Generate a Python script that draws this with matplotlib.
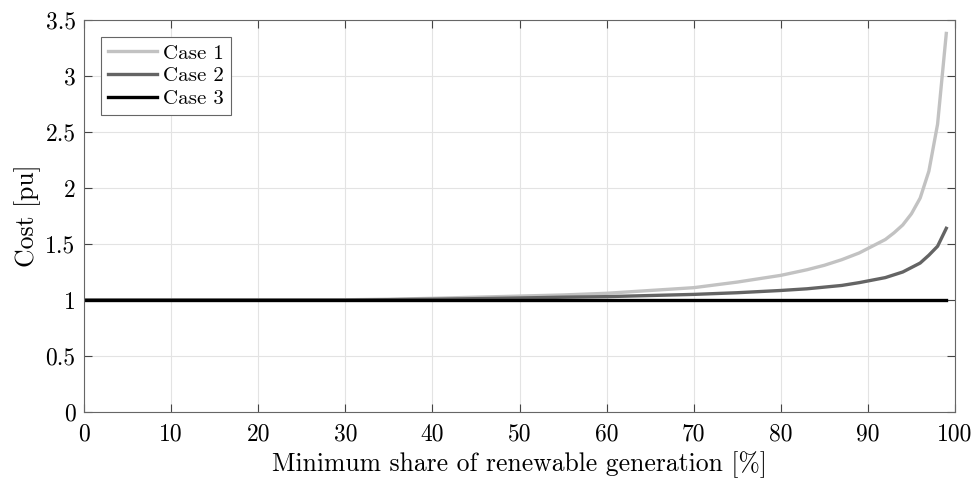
import matplotlib
matplotlib.use('Agg')
import matplotlib.pyplot as plt

# data
share = [0, 10, 20, 30, 35, 40, 45, 50, 55, 60, 65, 70, 75, 80, 83, 85, 87, 89,
         90, 91, 92, 93, 94, 95, 96, 97, 98, 99]
case1 = [1, 1, 1, 1.002, 1.007, 1.015, 1.025, 1.035, 1.045, 1.06, 1.085, 1.11,
         1.16, 1.22, 1.27, 1.31, 1.36, 1.42, 1.46, 1.50, 1.54, 1.60, 1.67, 1.77,
         1.91, 2.15, 2.57, 3.38]
case2 = [1, 1, 1, 1, 1.003, 1.007, 1.012, 1.018, 1.025, 1.03, 1.04, 1.05, 1.065,
         1.085, 1.10, 1.115, 1.13, 1.155, 1.17, 1.185, 1.20, 1.225, 1.25, 1.29,
         1.33, 1.40, 1.48, 1.64]
case3_x = [0, 99]
case3 = [1, 1]

xticks = list(range(0, 101, 10))
yticks = [0, 0.5, 1, 1.5, 2, 2.5, 3, 3.5]

plt.rcParams['font.family'] = ['cmr10', 'DejaVu Serif']
plt.rcParams['mathtext.fontset'] = 'cm'
plt.rcParams['axes.formatter.use_mathtext'] = True

fig = plt.figure(figsize=(9.74, 4.79), dpi=100)
ax = fig.add_axes([84 / 974, 67 / 479, 871 / 974, 392 / 479])

ax.plot(share, case1, color='#c2c2c2', lw=2.4, label='Case 1')
ax.plot(share, case2, color='#646464', lw=2.4, label='Case 2')
ax.plot(case3_x, case3, color='black', lw=2.4, label='Case 3')

ax.set_xlim(0, 100)
ax.set_ylim(0, 3.5)
ax.set_xticks(xticks)
ax.set_yticks(yticks)
ax.set_xticklabels([str(t) for t in xticks])
ax.set_yticklabels(['0', '0.5', '1', '1.5', '2', '2.5', '3', '3.5'])
ax.tick_params(direction='in', top=True, right=True, labelsize=17, length=6,
               color='#444444')
ax.tick_params(axis='x', pad=8)
ax.tick_params(axis='y', pad=6)
ax.grid(True, color='#e3e3e3', lw=0.8)
for s in ax.spines.values():
    s.set_color('#666666')

ax.set_xlabel('Minimum share of renewable generation [%]', fontsize=18.5, labelpad=4)
ax.set_ylabel('Cost [pu]', fontsize=18.5, labelpad=3)

leg = ax.legend(loc='upper left', fontsize=15, fancybox=False, framealpha=1,
                edgecolor='#666666', handlelength=2.35, borderpad=0.35,
                labelspacing=0.2, handletextpad=0.3, borderaxespad=0.8)
leg.get_frame().set_linewidth(0.8)

fig.savefig('out.png', dpi=100)
